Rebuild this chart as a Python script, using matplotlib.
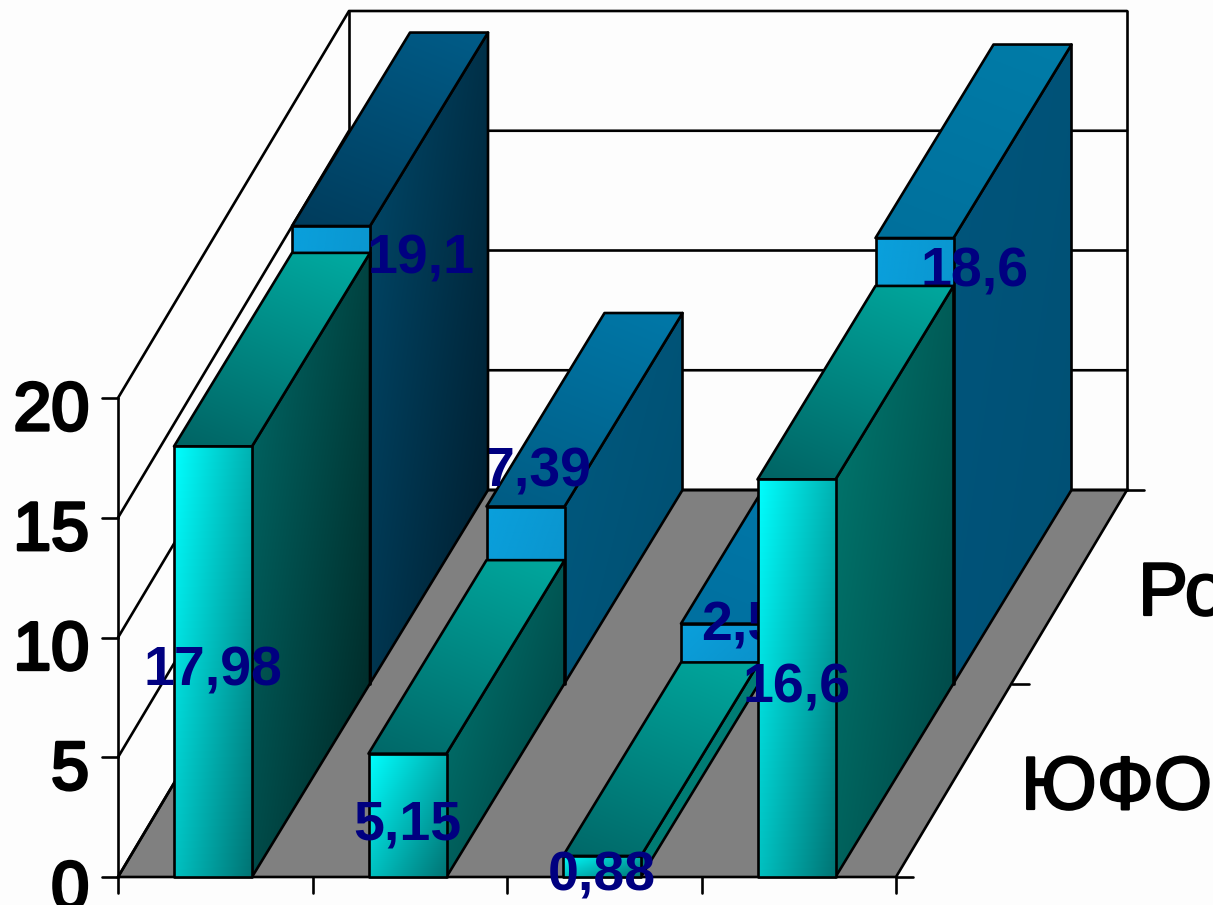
import numpy as np
import matplotlib
matplotlib.use('Agg')
import matplotlib.pyplot as plt
import matplotlib.patheffects as pe
from matplotlib.colors import to_rgb
from matplotlib.patches import Polygon

# values
regions_front = [17.98, 5.15, 0.88, 16.6]
regions_back = [19.1, 7.39, 2.5, 18.6]
labels_front = ['17,98', '5,15', '0,88', '16,6']
labels_back = ['19,1', '7,39', '2,5', '18,6']
series_names = ['ЮФО', 'Россия']
value_ticks = [0, 5, 10, 15, 20]

# label offsets of the back row, px from the top of the bar's front face
back_label_dx = [89, 12, 20, 60]
back_label_dy = [27, -40, -3, 28]

# colours per bar: (start, end)
front_face = [('#00ffff', '#007474')] * 4
front_top = [('#00aca2', '#006464'), ('#00a89e', '#006868'), ('#00a89e', '#006868'), ('#00a89e', '#006464')]
front_side = [('#006a68', '#002422'), ('#007a74', '#003c3c'), ('#007c74', '#007c74'), ('#007a70', '#004444')]
back_face = [('#0aa0dc', '#0a90c8')] * 4
back_top = [('#005c88', '#003c5c'), ('#0078a8', '#005c84'), ('#007cac', '#0070a0'), ('#007ca8', '#00709c')]
back_side = [('#004a6c', '#001c2c'), ('#005a80', '#004e70'), ('#005a80', '#004e70'), ('#00557c', '#005074')]

X0, Y0 = 118, 877
CAT_W = 194.5
VAL_H = 23.95
WALL_DX, DEPTH_DY = 231, 387
BAR_DX = 236
BAR_OFF, BAR_W = 56, 78
LW = 1.9


def project(x, value, depth, dx=WALL_DX):
    return (X0 + x + dx * depth, Y0 - value * VAL_H - DEPTH_DY * depth)


def shade(ax, poly, colours, z, ux=1.0, uy=0.6):
    xs, ys = zip(*poly)
    xmin, xmax, ymin, ymax = min(xs), max(xs), min(ys), max(ys)
    u, v = np.meshgrid(np.linspace(0, 1, 64), np.linspace(0, 1, 64))
    t = u * ux + v * uy
    t = (t - t.min()) / max(t.max() - t.min(), 1e-6)
    c0, c1 = np.array(to_rgb(colours[0])), np.array(to_rgb(colours[1]))
    img = c0 + (c1 - c0) * t[..., None]
    im = ax.imshow(img, extent=(xmin, xmax, ymax, ymin), origin='upper',
                   aspect='auto', interpolation='bilinear', zorder=z)
    clip = Polygon(poly, closed=True, transform=ax.transData)
    im.set_clip_path(clip)
    ax.add_patch(Polygon(poly, closed=True, fill=False, edgecolor='black',
                         lw=LW, joinstyle='round', zorder=z + 0.1))


def draw_bar(ax, i, value, d0, d1, face, top, side, z):
    left = CAT_W * i + BAR_OFF
    right = left + BAR_W
    a = project(left, 0, d0, BAR_DX)
    b = project(right, 0, d0, BAR_DX)
    c = project(right, value, d0, BAR_DX)
    d = project(left, value, d0, BAR_DX)
    e = project(right, value, d1, BAR_DX)
    f = project(left, value, d1, BAR_DX)
    g = project(right, 0, d1, BAR_DX)
    shade(ax, [b, g, e, c], side, z, 1.0, 0.8)
    shade(ax, [d, c, e, f], top, z + 0.2, -0.4, 1.0)
    shade(ax, [a, b, c, d], face, z + 0.4, 1.0, 0.8)


def bar_label(ax, x, y, text, z):
    ax.text(x, y + 20, text, ha='center', va='baseline', fontsize=40, color='#000080',
            family='Liberation Sans', fontweight='bold', zorder=z)


fig = plt.figure(figsize=(12.13, 9.05), dpi=100, facecolor='#fdfdfd')
ax = fig.add_axes([0, 0, 1, 1])
ax.set_axis_off()

line = dict(color='black', lw=LW, solid_capstyle='round')
heavy = [pe.withStroke(linewidth=1.6, foreground='black')]
heavier = [pe.withStroke(linewidth=2.4, foreground='black')]

# floor
floor = [project(0, 0, 0), project(CAT_W * 4, 0, 0), project(CAT_W * 4, 0, 1), project(0, 0, 1)]
ax.add_patch(Polygon(floor, closed=True, facecolor='#808080', edgecolor='black', lw=LW, zorder=1))

# walls and grid
for v in value_ticks:
    p0, p1, p2 = project(0, v, 0), project(0, v, 1), project(CAT_W * 4, v, 1)
    ax.plot([p0[0], p1[0], p2[0]], [p0[1], p1[1], p2[1]], zorder=2, **line)
    ax.plot([p0[0] - 16, p0[0]], [p0[1], p0[1]], zorder=2, **line)
    ax.text(89, p0[1] + 32, str(v), ha='right', va='baseline', fontsize=49,
            family='Liberation Sans', color='black', zorder=2, path_effects=heavier)
top = value_ticks[-1]
for x, d in [(0, 0), (0, 1), (CAT_W * 4, 1)]:
    p0, p1 = project(x, 0, d), project(x, top, d)
    ax.plot([p0[0], p1[0]], [p0[1], p1[1]], zorder=2, **line)

# axis ticks
for i in range(5):
    p = project(CAT_W * i, 0, 0)
    ax.plot([p[0], p[0]], [p[1], p[1] + 16], zorder=2, **line)
for d in [0, 0.5, 1]:
    p = project(CAT_W * 4, 0, d)
    ax.plot([p[0], p[0] + 17], [p[1], p[1]], zorder=2, **line)

# depth labels, the long one runs off the figure like in the original
ax.text(1021, 809, series_names[0], ha='left', va='baseline', fontsize=54,
        family='Liberation Sans', color='black', zorder=2, path_effects=heavy)
ax.text(1138, 615, series_names[1], ha='left', va='baseline', fontsize=54,
        family='Liberation Sans', color='black', zorder=2, path_effects=heavy)

# back row goes right to left, so bar 1 hides the start of the 7,39 label
z = 10
for i in reversed(range(4)):
    draw_bar(ax, i, regions_back[i], 0.5, 1, back_face[i], back_top[i], back_side[i], z)
    px, py = project(CAT_W * i + BAR_OFF + BAR_W / 2, regions_back[i], 0.5, BAR_DX)
    bar_label(ax, px + back_label_dx[i], py + back_label_dy[i], labels_back[i], z + 0.8)
    z += 1

z = 20
for i in range(4):
    draw_bar(ax, i, regions_front[i], 0, 0.5, front_face[i], front_top[i], front_side[i], z)
    z += 1
for i in range(4):
    px, py = project(CAT_W * i + BAR_OFF + BAR_W / 2, regions_front[i] / 2, 0, BAR_DX)
    bar_label(ax, px, py + 4, labels_front[i], 30)

ax.set_xlim(0, 1213)
ax.set_ylim(905, 0)
fig.savefig('out.png', dpi=100, facecolor=fig.get_facecolor())
